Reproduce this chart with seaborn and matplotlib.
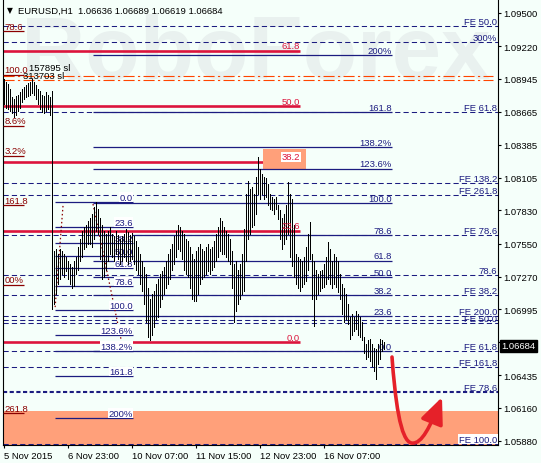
#!/usr/bin/env python3
# plot.py - EURUSD H1 with Fibonacci levels (MT4 style)

import matplotlib
matplotlib.use('Agg')
import matplotlib.pyplot as plt
import matplotlib.transforms as mtransforms
from matplotlib.path import Path
from matplotlib.patches import FancyArrowPatch, Rectangle
import numpy as np
import seaborn as sns

# ---- data ----
bar_high = [
    1.0894, 1.0892, 1.0890, 1.0886, 1.0879, 1.0877, 1.0880, 1.0881, 1.0883, 1.0886,
    1.0887, 1.0889, 1.0891, 1.0892, 1.0894, 1.0892, 1.0889, 1.0886, 1.0884, 1.0881,
    1.0880, 1.0883, 1.0881, 1.0879, 1.0884,
    1.0749, 1.0750, 1.0746, 1.0750, 1.0749, 1.0746, 1.0744, 1.0740, 1.0738, 1.0735,
    1.0740, 1.0744, 1.0752, 1.0759, 1.0766, 1.0769, 1.0771, 1.0774, 1.0777, 1.0780,
    1.0786, 1.0790, 1.0784, 1.0777, 1.0771, 1.0766, 1.0763, 1.0766, 1.0769, 1.0763,
    1.0761, 1.0766, 1.0762, 1.0759, 1.0761, 1.0763, 1.0767, 1.0765, 1.0762, 1.0764,
    1.0761, 1.0757, 1.0752, 1.0746, 1.0740, 1.0735, 1.0729, 1.0717, 1.0708, 1.0712,
    1.0715, 1.0721, 1.0725, 1.0729, 1.0732, 1.0735, 1.0740, 1.0746, 1.0750, 1.0755,
    1.0761, 1.0766, 1.0771, 1.0769, 1.0766, 1.0763, 1.0759, 1.0757, 1.0752, 1.0746,
    1.0742, 1.0749, 1.0752, 1.0755, 1.0750, 1.0749, 1.0752, 1.0755, 1.0750, 1.0752,
    1.0757, 1.0763, 1.0769, 1.0777, 1.0774, 1.0769, 1.0766, 1.0763, 1.0759, 1.0749,
    1.0738, 1.0740, 1.0733, 1.0738, 1.0746, 1.0767, 1.0797, 1.0808, 1.0801, 1.0803,
    1.0797, 1.0811, 1.0828, 1.0818, 1.0814, 1.0811, 1.0810, 1.0805, 1.0797, 1.0794,
    1.0793, 1.0794, 1.0788, 1.0783, 1.0777, 1.0780, 1.0788, 1.0807, 1.0797, 1.0793,
    1.0771, 1.0746, 1.0744, 1.0742, 1.0740, 1.0744, 1.0752, 1.0763, 1.0773, 1.0746,
    1.0740, 1.0733, 1.0729, 1.0732, 1.0733, 1.0738, 1.0744, 1.0756, 1.0750, 1.0740,
    1.0746, 1.0744, 1.0740, 1.0729, 1.0721, 1.0717, 1.0712, 1.0704, 1.0693, 1.0695,
    1.0693, 1.0698, 1.0695, 1.0693, 1.0689, 1.0676, 1.0670, 1.0673, 1.0674, 1.0670,
    1.0667, 1.0666, 1.0670, 1.0674, 1.0673, 1.0672,
]
bar_low = [
    1.0873, 1.0870, 1.0869, 1.0867, 1.0865, 1.0862, 1.0864, 1.0867, 1.0870, 1.0875,
    1.0877, 1.0879, 1.0880, 1.0881, 1.0882, 1.0881, 1.0877, 1.0873, 1.0869, 1.0866,
    1.0865, 1.0867, 1.0869, 1.0864, 1.0700,
    1.0704, 1.0712, 1.0721, 1.0725, 1.0729, 1.0727, 1.0732, 1.0725, 1.0721, 1.0717,
    1.0719, 1.0729, 1.0733, 1.0740, 1.0744, 1.0750, 1.0752, 1.0755, 1.0755, 1.0752,
    1.0759, 1.0766, 1.0763, 1.0742, 1.0725, 1.0727, 1.0733, 1.0740, 1.0746, 1.0744,
    1.0740, 1.0746, 1.0742, 1.0738, 1.0740, 1.0744, 1.0740, 1.0738, 1.0740, 1.0742,
    1.0738, 1.0733, 1.0729, 1.0721, 1.0715, 1.0704, 1.0689, 1.0676, 1.0673, 1.0678,
    1.0684, 1.0691, 1.0693, 1.0701, 1.0708, 1.0712, 1.0717, 1.0721, 1.0725, 1.0733,
    1.0738, 1.0744, 1.0750, 1.0749, 1.0742, 1.0733, 1.0729, 1.0727, 1.0717, 1.0708,
    1.0706, 1.0706, 1.0712, 1.0721, 1.0725, 1.0727, 1.0729, 1.0732, 1.0729, 1.0733,
    1.0735, 1.0740, 1.0744, 1.0749, 1.0746, 1.0746, 1.0744, 1.0740, 1.0738, 1.0717,
    1.0689, 1.0698, 1.0704, 1.0708, 1.0712, 1.0715, 1.0740, 1.0759, 1.0763, 1.0769,
    1.0771, 1.0780, 1.0797, 1.0793, 1.0797, 1.0793, 1.0794, 1.0788, 1.0784, 1.0783,
    1.0780, 1.0784, 1.0776, 1.0759, 1.0750, 1.0755, 1.0759, 1.0763, 1.0744, 1.0736,
    1.0727, 1.0721, 1.0717, 1.0715, 1.0718, 1.0721, 1.0723, 1.0733, 1.0742, 1.0708,
    1.0685, 1.0708, 1.0712, 1.0715, 1.0717, 1.0718, 1.0721, 1.0725, 1.0721, 1.0717,
    1.0721, 1.0718, 1.0714, 1.0708, 1.0695, 1.0689, 1.0691, 1.0687, 1.0674, 1.0678,
    1.0681, 1.0683, 1.0678, 1.0676, 1.0673, 1.0662, 1.0657, 1.0659, 1.0656, 1.0651,
    1.0647, 1.0640, 1.0653, 1.0657, 1.0664, 1.0666,
]

title_text = 'EURUSD,H1  1.06636 1.06689 1.06619 1.06684'
last_price = 1.06684

price_ticks = [1.09500, 1.09220, 1.08945, 1.08665, 1.08385, 1.08105, 1.07830,
               1.07550, 1.07270, 1.06995, 1.06715, 1.06435, 1.06160, 1.05880]
time_ticks = [0, 32, 64, 96, 128, 160]
time_labels = ['5 Nov 2015', '6 Nov 23:00', '10 Nov 07:00', '11 Nov 15:00',
               '12 Nov 23:00', '16 Nov 07:00']

# crimson retracement (bar -0.5 .. 148)
red_labels = ['61.8', '50.0', '38.2', '23.6', '0.0']
red_prices = [1.09179, 1.08713, 1.08242, 1.07659, 1.06717]
red_span = (-0.5, 148)

# short navy fibo (set A)
fa_labels = ['0.0', '23.6', '38.2', '50.0', '61.8', '78.6', '100.0',
             '123.6%', '138.2%', '161.8', '200%']
fa_prices = [1.07899, 1.07688, 1.07552, 1.07442, 1.07343, 1.07188, 1.06985,
             1.06774, 1.06639, 1.06427, 1.06075]
fa_span = (25.5, 64.5)
fa_trend_x = [29.5, 25.5]
fa_trend_p = [1.07868, 1.06996]

# long navy fibo (set B)
fb_labels = ['200%', '161.8', '138.2%', '123.6%', '100.0', '78.6', '61.8',
             '50.0', '38.2', '23.6', '0.0']
fb_prices = [1.09145, 1.08663, 1.08367, 1.08181, 1.07893, 1.07622, 1.07405,
             1.07265, 1.07115, 1.06935, 1.06639]
fb_span = (44.5, 194)
fb_trend_x = [44.5, 59.5]
fb_trend_p = [1.07884, 1.06658]

# full-width expansion levels (dashed)
fe_labels = ['FE 50.0', '300%', 'FE 61.8', 'FE 138.2', 'FE 261.8', 'FE 78.6',
             '78.6', 'FE 38.2', 'FE 200.0', '', 'FE 50.0', 'FE 61.8',
             'FE 161.8', 'FE 78.6', 'FE 100.0']
fe_prices = [1.09390, 1.09255, 1.08663, 1.08062, 1.07961, 1.07622, 1.07284,
             1.07115, 1.06935, 1.06906, 1.06878, 1.06639, 1.06506, 1.06292,
             1.05855]
fe_thick = 'FE 78.6'  # the lower one is drawn bold

# labels of an off-screen fibo at the left edge
left_labels = ['78.6', '100.0', '8.6%', '3.2%', '161.8', '00%', '261.8']
left_prices = [1.09348, 1.08976, 1.08547, 1.08291, 1.07876, 1.07202, 1.06114]

sl_prices = [1.08963, 1.08929]
sl_labels = ['157895 sl', '313703 sl']
sl_label_prices = [1.09035, 1.08967]

box_x = (129.5, 151)
box_p = (1.08181, 1.08350)
zone_p = (1.05846, 1.06134)

# forecast arrow (bar index, price)
arrow_x = [194, 195.5, 198, 204, 209, 213, 219]
arrow_p = [1.06590, 1.0625, 1.0587, 1.05862, 1.05855, 1.0600, 1.0625]

# ---- style ----
BG = '#F5FFFA'
NAVY = '#1C1C80'
CRIMSON = '#DC143C'
DARKRED = '#8B0000'
ORANGE = '#FF4500'
SALMON = '#FFA07A'
FS = 6.8

sns.set_theme(style='white', rc={'axes.facecolor': BG, 'figure.facecolor': BG})
plt.rcParams['font.family'] = ['Liberation Sans', 'DejaVu Sans']

fig = plt.figure(figsize=(5.41, 4.64), dpi=100)
ax = fig.add_axes([3 / 541, 18 / 464, 495 / 541, 446 / 464])
ax.set_xlim(-0.5, 247)
ax.set_ylim(1.05846, 1.09618)

# watermark
ax.text(0.51, 0.875, 'RoboForex', transform=ax.transAxes, fontsize=64,
        fontweight='bold', color='#e9f1ef', ha='center', va='center', zorder=0.5)

# zones
ax.axhspan(zone_p[0], zone_p[1], color=SALMON, lw=0, zorder=1)

# expansion levels
for lbl, p in zip(fe_labels, fe_prices):
    thick = (lbl == fe_thick and p < 1.07)
    if thick:
        ax.axhline(p, color=NAVY, lw=1.5, ls=(0, (2, 1.2)), zorder=2)
    else:
        ax.axhline(p, color=NAVY, lw=0.75, ls=(0, (5, 3)), zorder=2)
    if lbl:
        bb = dict(facecolor='white', edgecolor='none', pad=0.6) if lbl == 'FE 100.0' else None
        ax.annotate(lbl, (246.5, p), xytext=(0, 0.3), textcoords='offset points',
                    ha='right', va='bottom', fontsize=FS, color=NAVY, bbox=bb, zorder=6)

# SL lines
for p in sl_prices:
    ax.axhline(p, xmax=0.99, color=ORANGE, lw=0.8, ls=(0, (10, 3, 2, 3)), zorder=2)
for lbl, p, x in zip(sl_labels, sl_label_prices, [12.5, 9.5]):
    ax.text(x, p, lbl, fontsize=FS, color='black', va='center', ha='left', zorder=6)

# crimson fibo
for lbl, p in zip(red_labels, red_prices):
    ax.hlines(p, red_span[0], red_span[1], color=CRIMSON, lw=1.9, zorder=2)
    bb = dict(facecolor='white', edgecolor='none', pad=0.4) if lbl == '38.2' else None
    ax.annotate(lbl, (red_span[1], p), xytext=(0, 0.3), textcoords='offset points',
                ha='right', va='bottom', fontsize=FS, color=CRIMSON, bbox=bb, zorder=6)
ax.add_patch(Rectangle((box_x[0], box_p[0]), box_x[1] - box_x[0], box_p[1] - box_p[0],
                       facecolor=SALMON, lw=0, zorder=3))

# set B
for lbl, p in zip(fb_labels, fb_prices):
    ax.hlines(p, fb_span[0], fb_span[1], color=NAVY, lw=0.9, zorder=3)
    ax.annotate(lbl, (fb_span[1], p), xytext=(0, 0.3), textcoords='offset points',
                ha='right', va='bottom', fontsize=FS, color=NAVY, zorder=4)
ax.plot(fb_trend_x, fb_trend_p, color=DARKRED, lw=0.9, ls=(0, (1.2, 2)), zorder=4)

# set A
for lbl, p in zip(fa_labels, fa_prices):
    ax.hlines(p, fa_span[0], fa_span[1], color=NAVY, lw=0.9, zorder=3)
    ax.annotate(lbl, (fa_span[1], p), xytext=(0, 0.3), textcoords='offset points',
                ha='right', va='bottom', fontsize=FS, color=NAVY, zorder=4,
                bbox=dict(facecolor='white', edgecolor='none', pad=0.3))
ax.plot(fa_trend_x, fa_trend_p, color=DARKRED, lw=0.9, ls=(0, (1.2, 2)), zorder=4)

# left edge labels
for lbl, p in zip(left_labels, left_prices):
    ax.hlines(p, -0.5, 10, color=DARKRED, lw=0.9, zorder=3)
    ax.annotate(lbl, (0.2, p), xytext=(0, 0.3), textcoords='offset points',
                ha='left', va='bottom', fontsize=FS, color=DARKRED, zorder=6)

# HL bars, pixel crisp like the terminal
idx = np.arange(len(bar_high))
ax.vlines(idx, bar_low, bar_high, color='black', lw=0.72, antialiased=False, zorder=5)

# forecast arrow
verts = list(zip(arrow_x, arrow_p))
codes = [Path.MOVETO] + [Path.CURVE4] * 6
arrow = FancyArrowPatch(path=Path(verts, codes),
                        arrowstyle='-|>,head_length=0.8,head_width=0.35',
                        mutation_scale=20, color='#E52129', lw=2.6, zorder=7)
ax.add_patch(arrow)

# axes
for side in ['left', 'right', 'bottom']:
    ax.spines[side].set_color('black')
    ax.spines[side].set_linewidth(0.8)
ax.spines['top'].set_visible(False)
ax.yaxis.tick_right()
ax.set_yticks(price_ticks)
ax.set_yticklabels([f'{v:.5f}' for v in price_ticks])
ax.set_xticks(time_ticks)
ax.set_xticklabels(time_labels)
for lbl in ax.get_xticklabels():
    lbl.set_ha('left')
ax.tick_params(axis='both', labelsize=FS, colors='black', length=2.5, width=0.8,
               pad=1.5, direction='out')
ax.tick_params(axis='y', left=False, right=True)
ax.tick_params(axis='x', bottom=True)
ax.grid(False)

# last price box
trans = mtransforms.blended_transform_factory(ax.transAxes, ax.transData)
ax.text(1.006, last_price, f'{last_price:.5f}', transform=trans, ha='left',
        va='center', fontsize=FS, color='white', clip_on=False, zorder=10,
        bbox=dict(facecolor='black', edgecolor='black', pad=1.0))

# title
fig.text(7 / 541, 1 - 11 / 464, '\u25bc', fontsize=5.5, family='DejaVu Sans',
         va='center', color='black')
fig.text(18 / 541, 1 - 11 / 464, title_text, fontsize=FS, va='center', color='black')

fig.savefig('out.png', dpi=100, facecolor=BG)
